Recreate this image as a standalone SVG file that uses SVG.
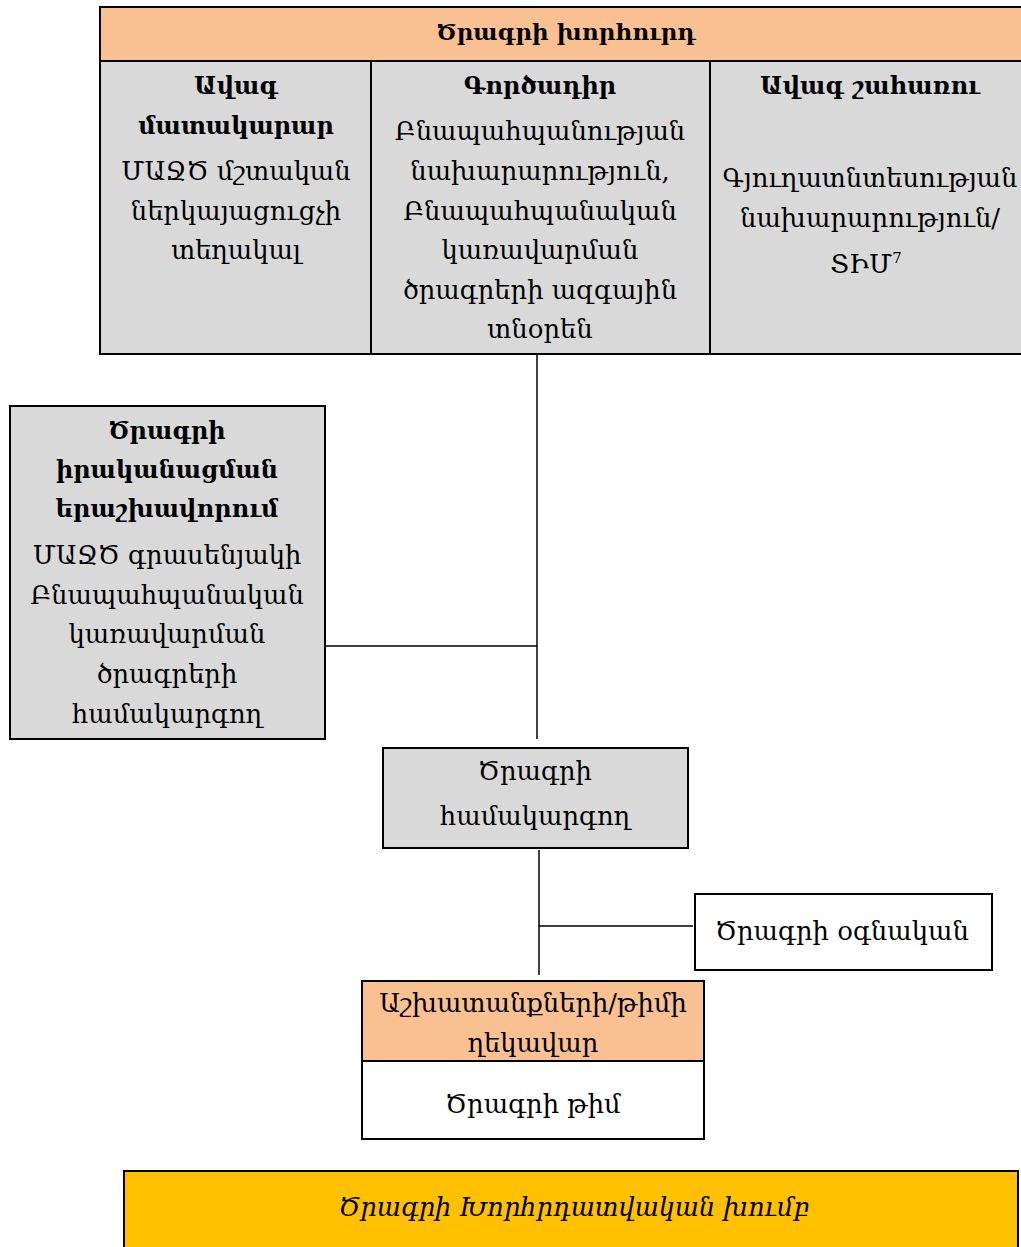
<svg xmlns="http://www.w3.org/2000/svg" width="1021" height="1247" viewBox="0 0 1021 1247">
<style>
text{font-family:"DejaVu Serif","Noto Sans",serif;font-size:25.8px;fill:#000;text-anchor:middle}
.b{font-weight:bold;font-size:24px}
.h{font-size:23px}
.i{font-style:italic;font-size:25.5px}
.box{stroke:#000;stroke-width:2}
.gray{fill:#D9D9D9}
.peach{fill:#F9C091}
.white{fill:#fff}
.gold{fill:#FFC000}
.conn{stroke:#000;stroke-width:1.5;fill:none}
</style>
<rect width="1021" height="1247" fill="#fff"/>
<g id="connectors">
<line class="conn" x1="537" y1="354" x2="537" y2="739"/>
<line class="conn" x1="322" y1="646" x2="537" y2="646"/>
<line class="conn" x1="539" y1="850" x2="539" y2="975"/>
<line class="conn" x1="539" y1="926" x2="693" y2="926"/>
</g>
<g id="board">
<rect class="box gray" x="100" y="7" width="925" height="347"/>
<rect class="box peach" x="100" y="7" width="925" height="54"/>
<line class="box" x1="371" y1="61" x2="371" y2="354"/>
<line class="box" x1="710" y1="61" x2="710" y2="354"/>
<text class="b h" x="566" y="40">Ծրագրի խորհուրդ</text>
</g>
<g id="senior-supplier">
<text class="b" x="236" y="94">Ավագ</text>
<text class="b" x="236" y="134">մատակարար</text>
<text x="236" y="180">ՄԱՋԾ մշտական</text>
<text x="236" y="220">ներկայացուցչի</text>
<text x="236" y="259">տեղակալ</text>
</g>
<g id="executive">
<text class="b" x="540" y="94">Գործադիր</text>
<text x="540" y="140">Բնապահպանության</text>
<text x="540" y="180">նախարարություն,</text>
<text x="540" y="220">Բնապահպանական</text>
<text x="540" y="259">կառավարման</text>
<text x="540" y="299">ծրագրերի ազգային</text>
<text x="540" y="338">տնօրեն</text>
</g>
<g id="senior-user">
<text class="b" x="870" y="94">Ավագ շահառու</text>
<text x="870" y="187">Գյուղատնտեսության</text>
<text x="870" y="227">նախարարություն/</text>
<text x="866" y="273">ՏԻՄ<tspan font-size="15" dy="-10">7</tspan></text>
</g>
<g id="assurance">
<rect class="box gray" x="10" y="406" width="315" height="333"/>
<text class="b" x="167" y="439">Ծրագրի</text>
<text class="b" x="167" y="478">իրականացման</text>
<text class="b" x="167" y="517">երաշխավորում</text>
<text x="167" y="564">ՄԱՋԾ գրասենյակի</text>
<text x="167" y="604">Բնապահպանական</text>
<text x="167" y="643">կառավարման</text>
<text x="167" y="683">ծրագրերի</text>
<text x="167" y="723">համակարգող</text>
</g>
<g id="project-manager">
<rect class="box gray" x="383" y="748" width="305" height="100"/>
<text x="535" y="780">Ծրագրի</text>
<text x="535" y="825">համակարգող</text>
</g>
<g id="project-assistant">
<rect class="box white" x="695" y="894" width="297" height="76"/>
<text x="842" y="940">Ծրագրի օգնական</text>
</g>
<g id="team-leader">
<rect class="box peach" x="362" y="981" width="342" height="80"/>
<text x="533" y="1012">Աշխատանքների/թիմի</text>
<text x="533" y="1052">ղեկավար</text>
</g>
<g id="project-team">
<rect class="box white" x="362" y="1061" width="342" height="78"/>
<text x="533" y="1113">Ծրագրի թիմ</text>
</g>
<g id="technical-group">
<rect class="box gold" x="124" y="1171" width="894" height="80"/>
<text class="i" x="574" y="1216">Ծրագրի Խորհրդատվական խումբ</text>
</g>
</svg>
